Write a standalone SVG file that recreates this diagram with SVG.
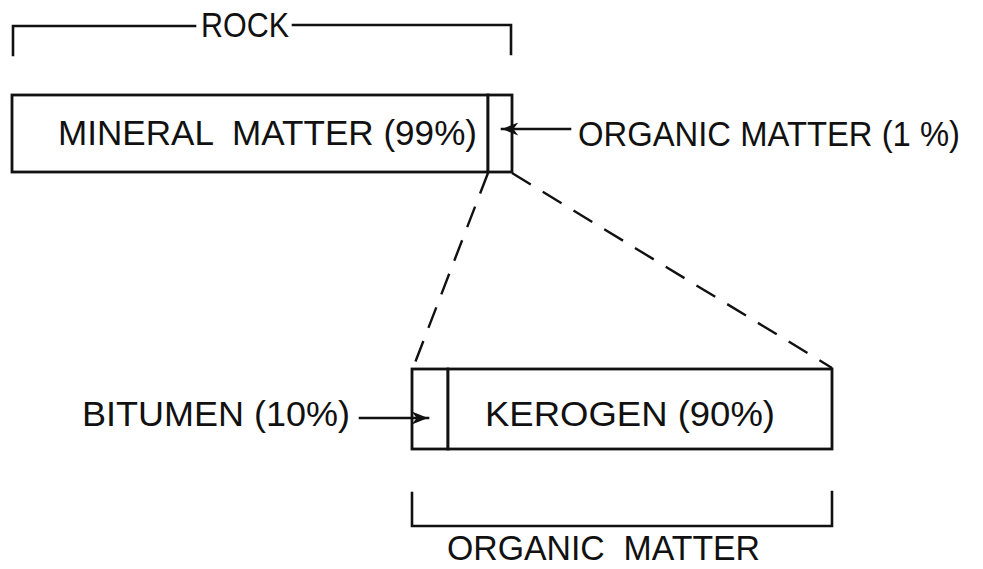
<svg xmlns="http://www.w3.org/2000/svg" width="983" height="569" viewBox="0 0 983 569">
<defs>
<style>
.ln{fill:none;stroke:#111;stroke-width:2.6;stroke-linecap:square}
.box{fill:#fff;stroke:#111;stroke-width:2.8}
.dash{fill:none;stroke:#111;stroke-width:2.4;stroke-dasharray:22 14}
.t{font-family:"Liberation Sans",Arial,sans-serif;font-size:35px;fill:#111}
</style>
<marker id="ah" viewBox="0 0 10 8" refX="10" refY="4" markerWidth="6.5" markerHeight="5" markerUnits="strokeWidth" orient="auto">
<path d="M0,0 L10,4 L0,8 L3,4 Z" fill="#111"/>
</marker>
</defs>
<rect width="983" height="569" fill="#fff"/>
<g id="rock">
<path class="ln" d="M13,55 V26 H195 M293,25 H511 V54"/>
<text class="t" x="201" y="37" font-size="31" textLength="88" lengthAdjust="spacingAndGlyphs">ROCK</text>
</g>
<g id="mineral">
<rect class="box" x="12" y="95" width="476" height="77"/>
<text class="t" x="58" y="145" textLength="419" lengthAdjust="spacingAndGlyphs" xml:space="preserve">MINERAL  MATTER (99%)</text>
</g>
<g id="organic1">
<rect class="box" x="488" y="95" width="24" height="77"/>
<text class="t" x="578" y="146" font-size="33" textLength="382" lengthAdjust="spacingAndGlyphs">ORGANIC MATTER (1 %)</text>
</g>
<g id="bitumen">
<rect class="box" x="412" y="369" width="36" height="80"/>
<text class="t" x="82" y="426" textLength="268" lengthAdjust="spacingAndGlyphs">BITUMEN (10%)</text>
</g>
<g id="kerogen">
<rect class="box" x="448" y="369" width="384" height="80"/>
<text class="t" x="485" y="426" textLength="290" lengthAdjust="spacingAndGlyphs">KEROGEN (90%)</text>
</g>
<g id="organic-bracket">
<path class="ln" d="M412,493 V526 H832 V492"/>
<text class="t" x="447" y="560" font-size="33" textLength="313" lengthAdjust="spacingAndGlyphs" xml:space="preserve">ORGANIC  MATTER</text>
</g>
<g id="connectors">
<line class="dash" x1="488" y1="173" x2="413" y2="368"/>
<line class="dash" x1="512" y1="173" x2="832" y2="368"/>
<line class="ln" x1="570" y1="129" x2="502" y2="129" marker-end="url(#ah)"/>
<line class="ln" x1="360" y1="418" x2="428" y2="418" marker-end="url(#ah)"/>
</g>
</svg>
